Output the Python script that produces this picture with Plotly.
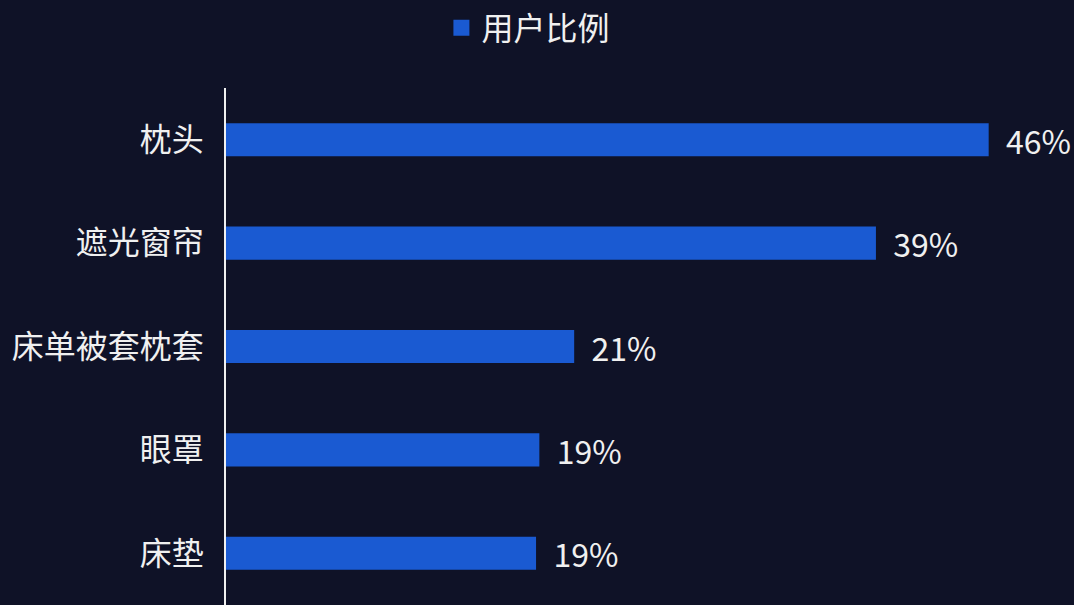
import plotly.graph_objects as go

categories = ["枕头", "遮光窗帘", "床单被套枕套", "眼罩", "床垫"]
values = [46.0, 39.2, 21.0, 18.9, 18.7]
series_name = "用户比例"

BG = "#0f1227"
BAR = "#1a5ad2"
TXT = "#f0f0f0"
FONT = "Noto Sans CJK SC, Microsoft YaHei, sans-serif"

fig = go.Figure()
fig.add_trace(
    go.Bar(
        y=categories,
        x=values,
        orientation="h",
        name=series_name,
        marker=dict(color=BAR, line=dict(width=0)),
        width=0.32,
        texttemplate="\u00a0\u00a0%{x:.0f}%",
        textposition="outside",
        constraintext="none",
        textfont=dict(color=TXT, size=32, family=FONT),
        cliponaxis=False,
        showlegend=False,
    )
)
# legend entry with a larger square swatch
fig.add_trace(
    go.Scatter(
        x=[None],
        y=[None],
        mode="markers",
        name=series_name,
        marker=dict(symbol="square", size=18, color=BAR),
        showlegend=True,
        hoverinfo="skip",
    )
)

fig.update_layout(
    width=1074,
    height=605,
    paper_bgcolor=BG,
    plot_bgcolor=BG,
    margin=dict(l=226, r=19, t=88, b=0, autoexpand=False),
    font=dict(family=FONT, color=TXT, size=32),
    legend=dict(
        orientation="h",
        xref="container",
        x=0.492,
        xanchor="center",
        y=1.116,
        yanchor="middle",
        font=dict(size=32, color=TXT, family=FONT),
        bgcolor="rgba(0,0,0,0)",
        itemwidth=30,
    ),
    xaxis=dict(
        range=[0, 50],
        visible=False,
        showgrid=False,
        zeroline=False,
        automargin=False,
    ),
    yaxis=dict(
        autorange="reversed",
        showline=True,
        linecolor="#f0f0f0",
        linewidth=1.5,
        showgrid=False,
        zeroline=False,
        ticks="",
        automargin=False,
        ticklabelstandoff=14,
        tickfont=dict(size=32, color=TXT, family=FONT),
    ),
)

fig.write_html(
    "out.html",
    config={"displayModeBar": False},
    post_script="document.body.style.margin='0';document.body.style.background='%s';" % BG,
)
